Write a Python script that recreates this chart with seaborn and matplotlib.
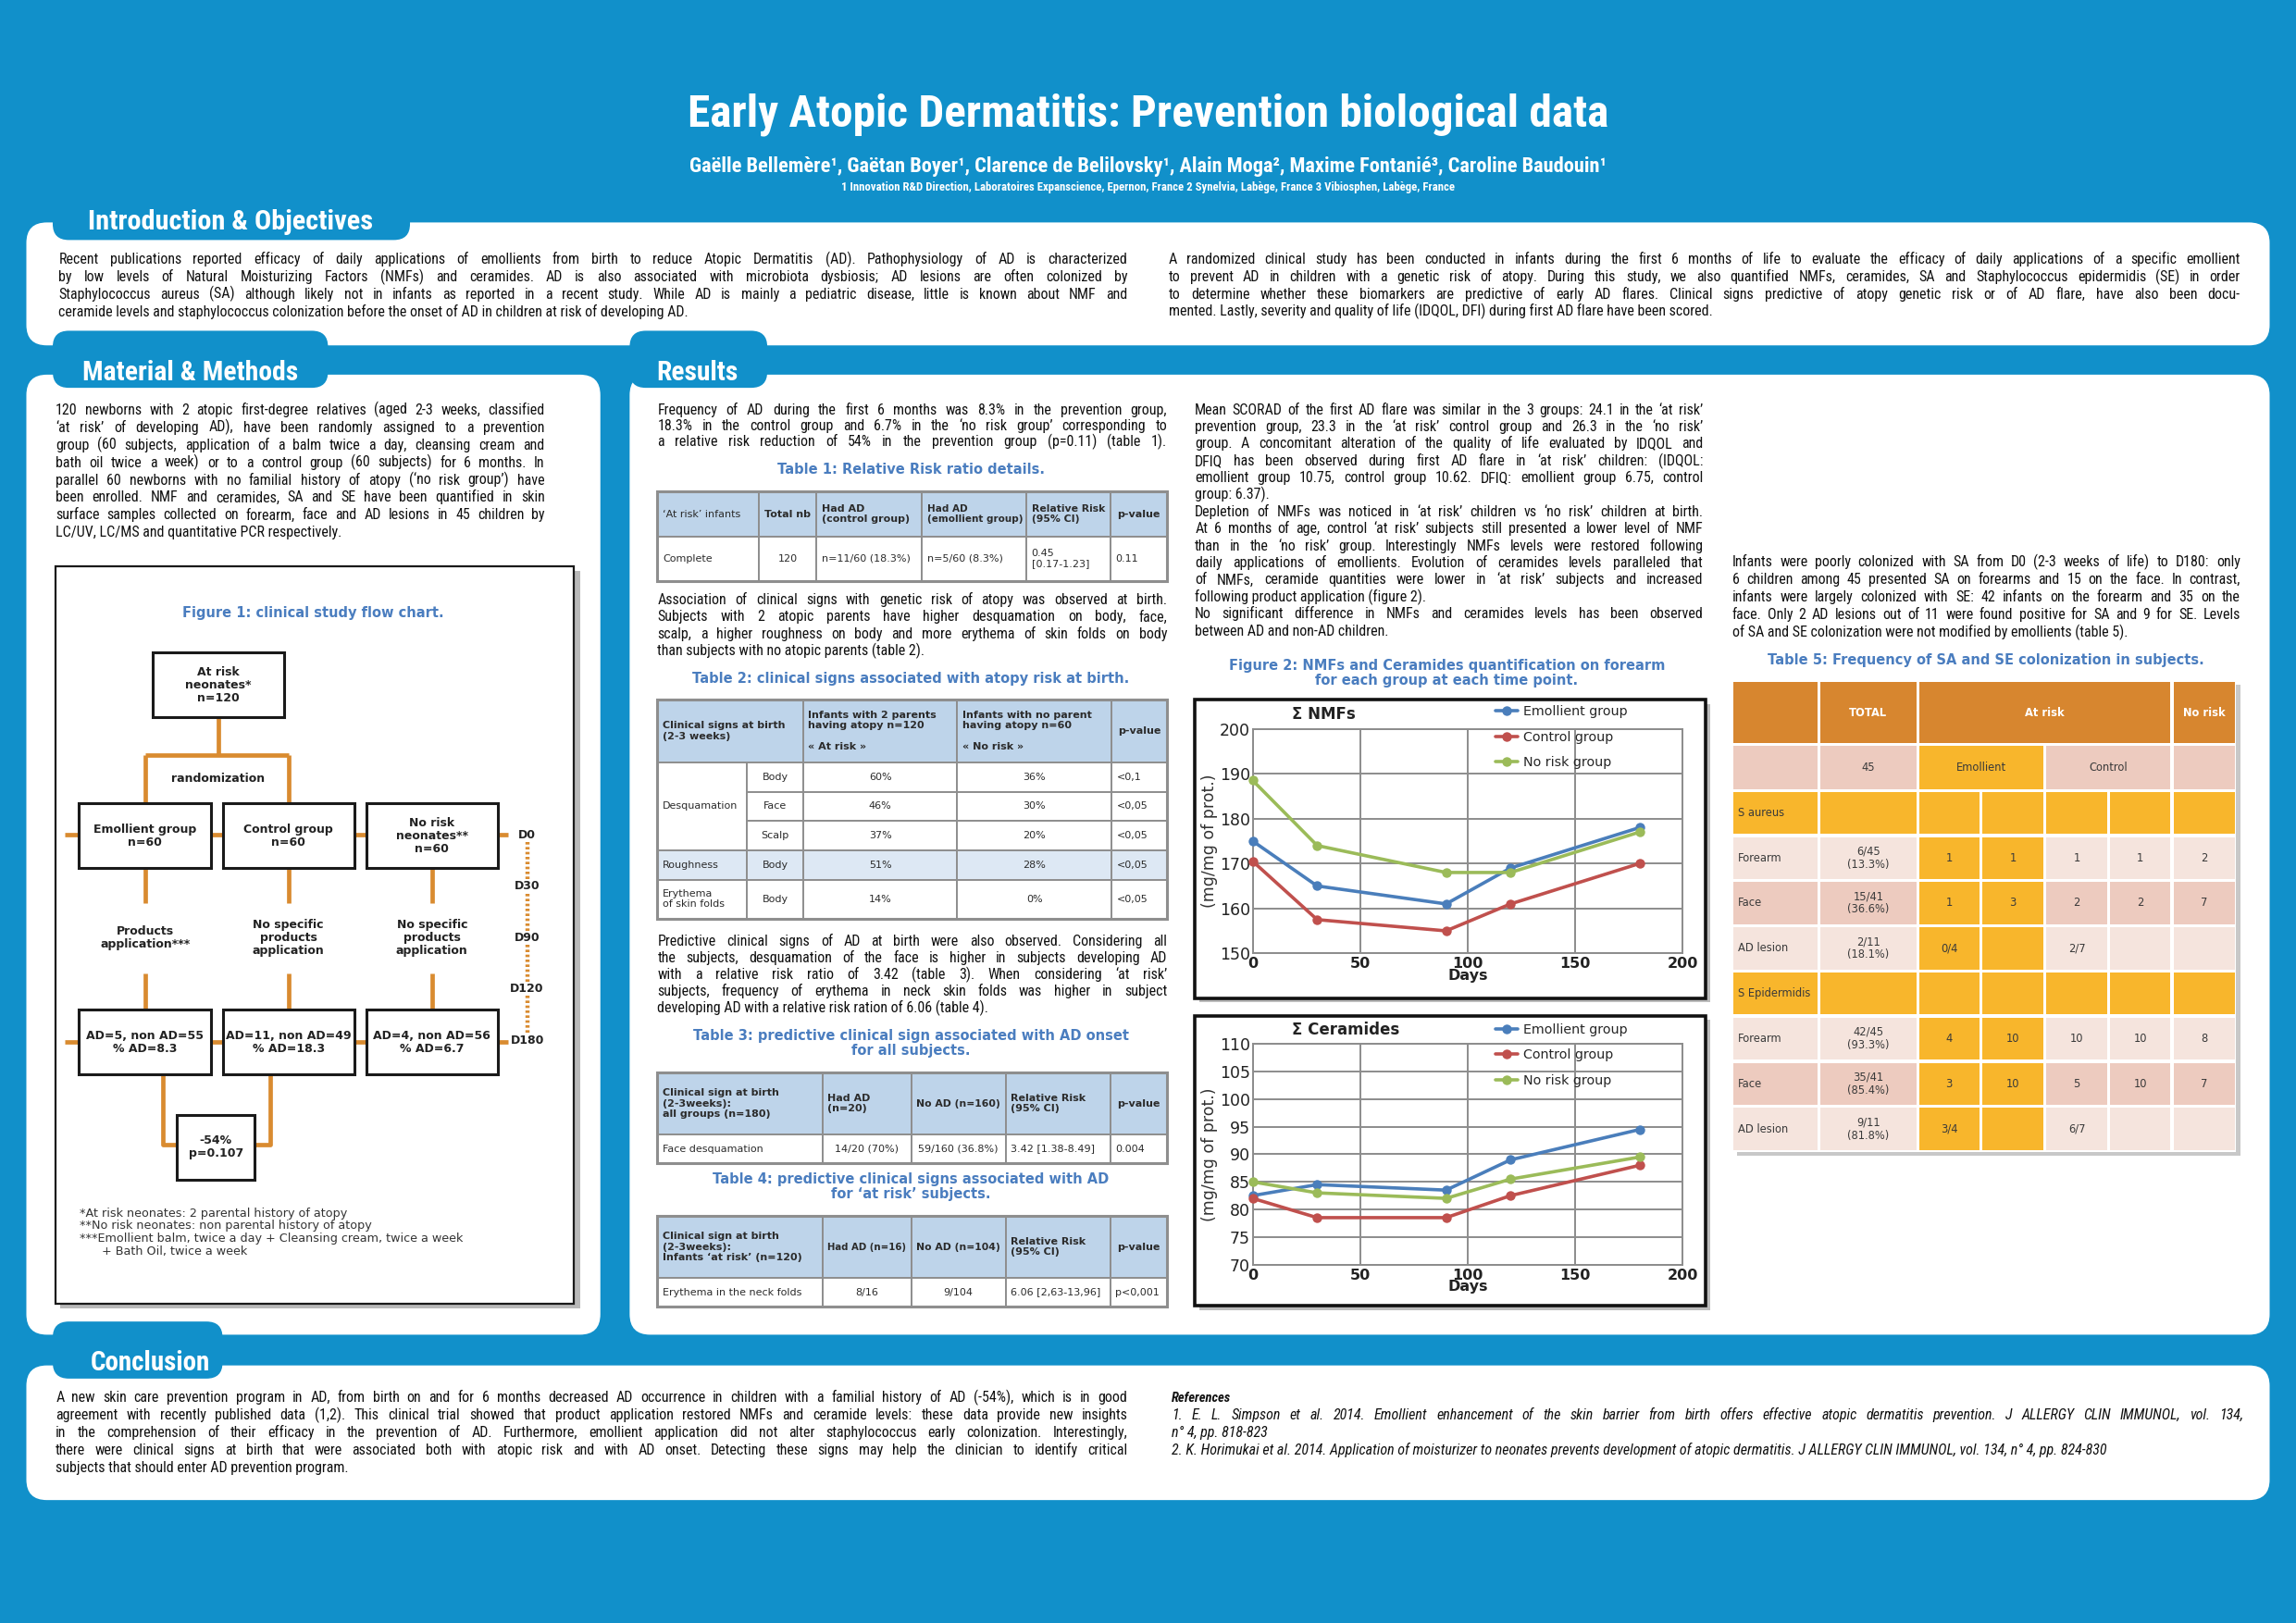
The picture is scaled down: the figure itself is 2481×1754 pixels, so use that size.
import matplotlib
matplotlib.use("Agg")
import matplotlib.pyplot as plt
from matplotlib.patches import FancyBboxPatch, Rectangle
from matplotlib.font_manager import FontProperties, fontManager
import numpy as np
import pandas as pd
import seaborn as sns

# ---------------- chart data ----------------
days = [0, 30, 90, 120, 180]
group_names = ["Emollient group", "Control group", "No risk group"]
nmf_emollient = [175.0, 165.0, 161.0, 169.0, 178.0]
nmf_control = [170.5, 157.5, 155.0, 161.0, 170.0]
nmf_norisk = [188.5, 174.0, 168.0, 168.0, 177.0]
cer_emollient = [82.5, 84.5, 83.5, 89.0, 94.5]
cer_control = [82.0, 78.5, 78.5, 82.5, 88.0]
cer_norisk = [85.0, 83.0, 82.0, 85.5, 89.5]
nmf_yticks = [150, 160, 170, 180, 190, 200]
cer_yticks = [70, 75, 80, 85, 90, 95, 100, 105, 110]
day_ticks = [0, 50, 100, 150, 200]

# ---------------- table data ----------------
t1_header = ["\u2018At risk\u2019 infants", "Total nb", "Had AD\n(control group)",
             "Had AD\n(emollient group)", "Relative Risk\n(95% CI)", "p-value"]
t1_row = ["Complete", "120", "n=11/60 (18.3%)", "n=5/60 (8.3%)", "0.45\n[0.17-1.23]", "0.11"]

t2_header = ["Clinical signs at birth\n(2-3 weeks)",
             "Infants with 2 parents\nhaving atopy n=120\n\n\u00ab At risk \u00bb",
             "Infants with no parent\nhaving atopy n=60\n\n\u00ab No risk \u00bb", "p-value"]
t2_signs = ["Desquamation", "Roughness", "Erythema\nof skin folds"]
t2_sites = ["Body", "Face", "Scalp", "Body", "Body"]
t2_atrisk = ["60%", "46%", "37%", "51%", "14%"]
t2_norisk = ["36%", "30%", "20%", "28%", "0%"]
t2_p = ["<0,1", "<0,05", "<0,05", "<0,05", "<0,05"]

t3_header = ["Clinical sign at birth\n(2-3weeks):\nall groups (n=180)", "Had AD\n(n=20)",
             "No AD (n=160)", "Relative Risk\n(95% CI)", "p-value"]
t3_row = ["Face desquamation", "14/20 (70%)", "59/160 (36.8%)", "3.42 [1.38-8.49]", "0.004"]
t4_header = ["Clinical sign at birth\n(2-3weeks):\nInfants \u2018at risk\u2019 (n=120)", "Had AD (n=16)",
             "No AD (n=104)", "Relative Risk\n(95% CI)", "p-value"]
t4_row = ["Erythema in the neck folds", "8/16", "9/104", "6.06 [2,63-13,96]", "p<0,001"]

t5_rowlabels = ["S aureus", "Forearm", "Face", "AD lesion", "S Epidermidis", "Forearm", "Face", "AD lesion"]
t5_total = ["", "6/45\n(13.3%)", "15/41\n(36.6%)", "2/11\n(18.1%)", "", "42/45\n(93.3%)", "35/41\n(85.4%)", "9/11\n(81.8%)"]
t5_values = [["", "", "", "", ""],
             ["1", "1", "1", "1", "2"],
             ["1", "3", "2", "2", "7"],
             ["0/4", "", "2/7", "", ""],
             ["", "", "", "", ""],
             ["4", "10", "10", "10", "8"],
             ["3", "10", "5", "10", "7"],
             ["3/4", "", "6/7", "", ""]]

flow_days = ["D0", "D30", "D90", "D120", "D180"]
flow_groups = ["Emollient group\nn=60", "Control group\nn=60", "No risk\nneonates**\nn=60"]
flow_treat = ["Products\napplication***", "No specific\nproducts\napplication", "No specific\nproducts\napplication"]
flow_results = ["AD=5, non AD=55\n% AD=8.3", "AD=11, non AD=49\n% AD=18.3", "AD=4, non AD=56\n% AD=6.7"]

# ---------------- text ----------------
title = "Early Atopic Dermatitis: Prevention biological data"
authors = ("Ga\u00eblle Bellem\u00e8re\u00b9, Ga\u00ebtan Boyer\u00b9, Clarence de Belilovsky\u00b9, "
           "Alain Moga\u00b2, Maxime Fontani\u00e9\u00b3, Caroline Baudouin\u00b9")
affil = ("1 Innovation R&D Direction, Laboratoires Expanscience, Epernon, France 2 Synelvia, "
         "Lab\u00e8ge, France 3 Vibiosphen, Lab\u00e8ge, France")
intro_left = [[
    "Recent publications reported efficacy of daily applications of emollients from birth to reduce Atopic Dermatitis (AD). Pathophysiology of AD is characterized",
    "by low levels of Natural Moisturizing Factors (NMFs) and ceramides. AD is also associated with microbiota dysbiosis; AD lesions are often colonized by",
    "Staphylococcus aureus (SA) although likely not in infants as reported in a recent study. While AD is mainly a pediatric disease, little is known about NMF and",
    "ceramide levels and staphylococcus colonization before the onset of AD in children at risk of developing AD."]]
intro_right = [[
    "A randomized clinical study has been conducted in infants during the first 6 months of life to evaluate the efficacy of daily applications of a specific emollient",
    "to prevent AD in children with a genetic risk of atopy. During this study, we also quantified NMFs, ceramides, SA and Staphylococcus epidermidis (SE) in order",
    "to determine whether these biomarkers are predictive of early AD flares. Clinical signs predictive of atopy genetic risk or of AD flare, have also been docu-",
    "mented. Lastly, severity and quality of life (IDQOL, DFI) during first AD flare have been scored."]]
methods = [[
    "120 newborns with 2 atopic first-degree relatives (aged 2-3 weeks, classified",
    "\u2018at risk\u2019 of developing AD), have been randomly assigned to a prevention",
    "group (60 subjects, application of a balm twice a day, cleansing cream and",
    "bath oil twice a week) or to a control group (60 subjects) for 6 months. In",
    "parallel 60 newborns with no familial history of atopy (\u2018no risk group\u2019) have",
    "been enrolled. NMF and ceramides, SA and SE have been quantified in skin",
    "surface samples collected on forearm, face and AD lesions in 45 children by",
    "LC/UV, LC/MS and quantitative PCR respectively."]]
res_p1 = [[
    "Frequency of AD during the first 6 months was 8.3% in the prevention group,",
    "18.3% in the control group and 6.7% in the \u2018no risk group\u2019 corresponding to",
    "a relative risk reduction of 54% in the prevention group (p=0.11) (table 1)."]]
res_p2 = [[
    "Association of clinical signs with genetic risk of atopy was observed at birth.",
    "Subjects with 2 atopic parents have higher desquamation on body, face,",
    "scalp, a higher roughness on body and more erythema of skin folds on body",
    "than subjects with no atopic parents (table 2)."]]
res_p3 = [[
    "Predictive clinical signs of AD at birth were also observed. Considering all",
    "the subjects, desquamation of the face is higher in subjects developing AD",
    "with a relative risk ratio of 3.42 (table 3). When considering \u2018at risk\u2019",
    "subjects, frequency of erythema in neck skin folds was higher in subject",
    "developing AD with a relative risk ration of 6.06 (table 4)."]]
res_col2 = [
    ["Mean SCORAD of the first AD flare was similar in the 3 groups: 24.1 in the \u2018at risk\u2019",
     "prevention group, 23.3 in the \u2018at risk\u2019 control group and 26.3 in the \u2018no risk\u2019",
     "group.  A concomitant alteration of the quality of life evaluated by IDQOL and",
     "DFIQ has been observed during first AD flare in \u2018at risk\u2019 children: (IDQOL:",
     "emollient group 10.75, control group 10.62. DFIQ: emollient group 6.75, control",
     "group: 6.37)."],
    ["Depletion of NMFs was noticed in \u2018at risk\u2019 children vs \u2018no risk\u2019 children at birth.",
     "At 6 months of age, control \u2018at risk\u2019 subjects still presented a lower level of NMF",
     "than in the \u2018no risk\u2019 group. Interestingly NMFs levels were restored following",
     "daily applications of emollients.  Evolution of ceramides levels paralleled that",
     "of NMFs, ceramide quantities were lower in \u2018at risk\u2019 subjects and increased",
     "following product application (figure 2)."],
    ["No significant difference in NMFs and ceramides levels has been observed",
     "between AD and non-AD children."]]
res_col3 = [[
    "Infants were poorly colonized with SA from D0 (2-3 weeks of life) to D180: only",
    "6 children among 45 presented SA on forearms and 15 on the face. In contrast,",
    "infants were largely colonized with SE: 42 infants on the forearm and 35 on the",
    "face. Only 2 AD lesions out of 11 were found positive for SA and 9 for SE. Levels",
    "of SA and SE colonization were not modified by emollients (table 5)."]]
conclusion = [[
    "A new  skin care prevention program in AD, from birth on and for 6 months decreased AD occurrence in children with a familial history of AD (-54%), which is in good",
    "agreement with recently published data (1,2). This clinical trial showed that product application restored NMFs and ceramide levels: these data provide new insights",
    "in the comprehension of their efficacy in the prevention of AD. Furthermore, emollient application did not alter staphylococcus early colonization. Interestingly,",
    "there were clinical signs at birth that were associated both with atopic risk and with AD onset. Detecting these signs may help the clinician to identify critical",
    "subjects that should enter AD prevention program."]]
references = [
    ["1. E. L. Simpson et al. 2014. Emollient enhancement of the skin barrier from birth offers effective atopic dermatitis prevention. J ALLERGY CLIN IMMUNOL, vol. 134,",
     "n\u00b0 4, pp. 818-823"],
    ["2. K. Horimukai et al. 2014. Application of moisturizer to neonates prevents development of atopic dermatitis. J ALLERGY CLIN IMMUNOL, vol. 134, n\u00b0 4, pp. 824-830"]]

# ---------------- setup ----------------
sns.set_theme(style="white")
ttf = fontManager.ttflist
names = {f.name for f in ttf}


def pick_body():
    for nm in ["Liberation Sans Narrow", "Roboto Condensed", "Open Sans Condensed", "Noto Sans Condensed"]:
        if nm in names:
            return nm, "normal"
    for nm in ["DejaVu Sans", "Noto Sans", "Roboto", "Open Sans"]:
        if any(f.name == nm and str(f.stretch) in ("condensed", "semi-condensed") for f in ttf):
            return nm, "condensed"
    return "DejaVu Sans", "normal"


BODY, BODY_STRETCH = pick_body()
plt.rcParams["font.family"] = ["DejaVu Sans"]

BLUE = "#1190ca"
CAP = "#4a7dbf"
ORANGE = "#d98b30"
W_FULL, H_FULL = 2481, 1754
UW, UH = 1568.0, 1109.0
S = W_FULL / UW

fig = plt.figure(figsize=(W_FULL / 100, H_FULL / 100), dpi=100)
fig.patch.set_facecolor(BLUE)
bg = fig.add_axes([0, 0, 1, 1])
bg.set_xlim(0, UW)
bg.set_ylim(UH, 0)
bg.axis("off")
R = fig.canvas.get_renderer()


def twidth(s, fp):
    return R.get_text_width_height_descent(s, fp, ismath=False)[0] / S


def txt(x, y, s, size, weight="normal", color="#222222", ha="center", va="center",
        family=None, stretch="normal", style="normal", maxw=None, exactw=None, ls=1.15, z=6):
    fam = [family or "DejaVu Sans", "DejaVu Sans"]
    fp = FontProperties(family=fam, size=size, weight=weight, style=style, stretch=stretch)
    lines = s.split("\n")
    wmax = max(twidth(l, fp) for l in lines if l) if any(lines) else 1
    if exactw is not None:
        fp.set_size(size * exactw / wmax)
    elif maxw is not None and wmax > maxw:
        fp.set_size(size * maxw / wmax)
    bg.text(x, y, s, fontproperties=fp, color=color, ha=ha, va=va,
            multialignment=ha if ha in ("left", "right") else "center", linespacing=ls, zorder=z)
    return fp.get_size()


def paragraph(blocks, x0, x1, y0, dy, size, weight="normal", style="normal",
              justify=True, justify_last=False, color="#111111"):
    fp = FontProperties(family=[BODY, "DejaVu Sans"], stretch=BODY_STRETCH, size=size,
                        weight=weight, style=style)
    lines = [l for b in blocks for l in b]
    wmax = max(twidth(l, fp) for l in lines)
    fp.set_size(size * min(1.0, (x1 - x0) / wmax))
    y = y0
    for b in blocks:
        for i, line in enumerate(b):
            last = i == len(b) - 1
            words = line.split()
            if justify and (not last or justify_last) and len(words) > 1:
                ws = [twidth(w, fp) for w in words]
                gap = ((x1 - x0) - sum(ws)) / (len(words) - 1)
                x = x0
                for w, wd in zip(words, ws):
                    bg.text(x, y, w, fontproperties=fp, ha="left", va="baseline", color=color, zorder=6)
                    x += wd + gap
            else:
                bg.text(x0, y, line, fontproperties=fp, ha="left", va="baseline", color=color, zorder=6)
            y += dy
    return fp.get_size()


def rpanel(x0, y0, x1, y1, r, fc, z=1):
    bg.add_patch(FancyBboxPatch((x0 + r, y0 + r), (x1 - x0) - 2 * r, (y1 - y0) - 2 * r,
                                boxstyle=f"round,pad={r},rounding_size={r}", fc=fc, ec="none", zorder=z))


def section(px0, py0, px1, py1, tx0, tx1, tbot, label, lx, lw_):
    rpanel(px0, py0, px1, py1, 14, "white", z=1)
    rpanel(tx0, py0 - 30, tx1, tbot, 11, BLUE, z=2)
    txt(lx, (py0 - 2 + tbot) / 2 - 5, label, 14, weight="bold", color="white", ha="left",
        family=BODY, exactw=lw_, z=3)


# ---------------- header ----------------
txt(784, 78, title, 40, weight="bold", color="white", family=BODY, exactw=628)
txt(784, 114, authors, 14, weight="bold", color="white", family=BODY, exactw=632)
txt(784, 128, affil, 10, weight="bold", color="white", family=BODY, exactw=416)

# ---------------- sections ----------------
section(18, 152, 1550, 236, 36, 280, 164, "Introduction & Objectives", 60, 196)
section(18, 256, 410, 912, 36, 224, 265, "Material & Methods", 56, 148)
section(430, 256, 1550, 912, 430, 524, 265, "Results", 448, 56)
section(18, 933, 1550, 1025, 36, 152, 942, "Conclusion", 62, 82)

paragraph(intro_left, 40, 770, 180, 12, 11.5)
paragraph(intro_right, 798, 1530, 180, 12, 11.5)
paragraph(methods, 38, 372, 283, 12, 11.5)
paragraph(res_p1, 449, 797, 283, 11, 11.5, justify_last=True)
paragraph(res_p2, 449, 797, 413, 11.5, 11.5)
paragraph(res_p3, 449, 797, 646, 11.5, 11.5)
paragraph(res_col2, 816, 1163, 283, 11.62, 11.5)
paragraph(res_col3, 1183, 1530, 387, 12, 11.5)
paragraph(conclusion, 38, 770, 958, 12, 11.5)
bg.text(800, 958, "References", fontproperties=FontProperties(family=[BODY, "DejaVu Sans"], stretch=BODY_STRETCH,
        size=10.5, weight="bold", style="italic"), ha="left", va="baseline", color="#111111", zorder=6)
paragraph(references, 800, 1532, 970, 12, 11.5, style="italic")

# ---------------- captions ----------------
cap_fs = txt(622, 464, "Table 2: clinical signs associated with atopy risk at birth.", 11,
             weight="bold", color=CAP, exactw=295)
txt(214, 419, "Figure 1: clinical study flow chart.", cap_fs, weight="bold", color=CAP)
txt(622, 321, "Table 1: Relative Risk ratio details.", cap_fs, weight="bold", color=CAP)
txt(622, 713, "Table 3: predictive clinical sign associated with AD onset\nfor all subjects.", cap_fs,
    weight="bold", color=CAP, ls=1.05)
txt(622, 811, "Table 4: predictive clinical signs associated with AD\nfor \u2018at risk\u2019 subjects.", cap_fs,
    weight="bold", color=CAP, ls=1.05)
txt(988, 460, "Figure 2: NMFs and Ceramides quantification on forearm\nfor each group at each time point.",
    cap_fs, weight="bold", color=CAP, ls=1.05)
txt(1356, 451, "Table 5: Frequency of SA and SE colonization in subjects.", cap_fs, weight="bold", color=CAP)

# ---------------- flow chart ----------------
bg.add_patch(Rectangle((41, 390), 355, 504, fc="#b9b9b9", ec="none", zorder=2))
bg.add_patch(Rectangle((38, 387), 354, 504, fc="white", ec="#1a1a1a", lw=1.6, zorder=3))

box_fs = txt(-500, -500, "AD=11, non AD=49", 10, weight="bold", exactw=86)


def fbox(x0, y0, x1, y1, s):
    bg.add_patch(Rectangle((x0, y0), x1 - x0, y1 - y0, fc="white", ec="#1a1a1a", lw=2.2, zorder=5))
    txt((x0 + x1) / 2, (y0 + y1) / 2, s, box_fs, weight="bold", color="#222222", ls=1.1, z=6)


def oline(xs, ys, z=4, **kw):
    bg.plot(xs, ys, color=ORANGE, lw=kw.pop("lw", 3.4), solid_capstyle="butt", zorder=z, **kw)


centers = [99, 197, 295]
gx0 = [54, 152, 250]
oline([149, 149], [490, 516])
oline([99, 197], [516, 516])
oline([99, 99], [516, 549])
oline([197, 197], [516, 549])
oline([44, 347], [570, 570])
oline([44, 347], [712, 712])
for cx in centers:
    oline([cx, cx], [593, 617])
    oline([cx, cx], [665, 690])
oline([111.5, 111.5, 121], [734, 782, 782])
oline([184.5, 184.5, 174], [734, 782, 782])

fbox(104, 446, 194, 490, "At risk\nneonates*\nn=120")
txt(149, 532, "randomization", box_fs, weight="bold")
for x0, s in zip(gx0, flow_groups):
    fbox(x0, 549, x0 + 90, 593, s)
for x0, s in zip(gx0, flow_results):
    fbox(x0, 690, x0 + 90, 734, s)
for cx, s in zip(centers, flow_treat):
    txt(cx, 641, s, box_fs, weight="bold", ls=1.1)
fbox(121, 762, 174, 806, "-54%\np=0.107")

d_ys = [570.5, 605.6, 640.8, 675.6, 711.2]
for lab, yy in zip(flow_days, d_ys):
    txt(360, yy, lab, box_fs, weight="bold")
for ya, yb in zip(d_ys[:-1], d_ys[1:]):
    oline([360, 360], [ya + 5, yb - 5], lw=3.2, linestyle=(0, (0.6, 0.6)))

foot_fs = txt(-500, -500, "***Emollient balm, twice a day + Cleansing cream, twice a week", 9, exactw=262)
txt(54.5, 842, "*At risk neonates: 2 parental history of atopy\n**No risk neonates: non parental history of atopy\n"
    "***Emollient balm, twice a day + Cleansing cream, twice a week\n      + Bath Oil, twice a week",
    foot_fs, ha="left", ls=1.08, color="#333333")

# ---------------- tables 1-4 ----------------
HB = "#bed4ea"
HL = "#dde8f4"
GRID = "#8e8e8e"
TFS = 8.0


def draw_table(x0, x1, y0, y1, cfr, rfr, cells, fs=TFS):
    xs = [x0 + f * (x1 - x0) for f in cfr]
    ys = [y0 + f * (y1 - y0) for f in rfr]
    for (r0, r1, c0, c1, s, fc, wt, ha) in cells:
        X0, X1, Y0, Y1 = xs[c0], xs[c1], ys[r0], ys[r1]
        bg.add_patch(Rectangle((X0, Y0), X1 - X0, Y1 - Y0, fc=fc, ec=GRID, lw=1.4, zorder=3))
        if s:
            pad = 3.5
            x = X0 + pad if ha == "left" else (X0 + X1) / 2
            txt(x, (Y0 + Y1) / 2, s, fs, weight=wt, color="#2b2b2b", ha=ha, maxw=(X1 - X0) - 2 * pad,
                ls=1.15, z=5)
    bg.add_patch(Rectangle((x0, y0), x1 - x0, y1 - y0, fc="none", ec=GRID, lw=2.2, zorder=4))


t1_cells = []
for c, s in enumerate(t1_header):
    t1_cells.append((0, 1, c, c + 1, s, HB, "normal" if c == 0 else "bold",
                     "center" if c in (1, 5) else "left"))
for c, s in enumerate(t1_row):
    t1_cells.append((1, 2, c, c + 1, s, "white", "normal", "center" if c == 1 else "left"))
draw_table(449, 797, 336, 397, [0, .199, .312, .519, .724, .889, 1], [0, .5, 1], t1_cells)

t2_cells = [(0, 1, 0, 2, t2_header[0], HB, "bold", "left"),
            (0, 1, 2, 3, t2_header[1], HB, "bold", "left"),
            (0, 1, 3, 4, t2_header[2], HB, "bold", "left"),
            (0, 1, 4, 5, t2_header[3], HB, "bold", "center"),
            (1, 4, 0, 1, t2_signs[0], "white", "normal", "left"),
            (4, 5, 0, 1, t2_signs[1], HL, "normal", "left"),
            (5, 6, 0, 1, t2_signs[2], "white", "normal", "left")]
for i in range(5):
    fc = HL if i == 3 else "white"
    t2_cells += [(i + 1, i + 2, 1, 2, t2_sites[i], fc, "normal", "center"),
                 (i + 1, i + 2, 2, 3, t2_atrisk[i], fc, "normal", "center"),
                 (i + 1, i + 2, 3, 4, t2_norisk[i], fc, "normal", "center"),
                 (i + 1, i + 2, 4, 5, t2_p[i], fc, "normal", "left")]
draw_table(449, 797, 478, 628, [0, .176, .286, .588, .891, 1],
           [0, .2867, .42, .5533, .6867, .82, 1.0], t2_cells)


def small_table(y0, y1, header, row):
    cells = []
    for c, s in enumerate(header):
        cells.append((0, 1, c, c + 1, s, HB, "bold", "center" if c == 4 else "left"))
    for c, s in enumerate(row):
        cells.append((1, 2, c, c + 1, s, "white", "normal", "left" if c in (0, 3, 4) else "center"))
    draw_table(449, 797, y0, y1, [0, .324, .498, .683, .889, 1], [0, .677, 1], cells)


small_table(733, 795, t3_header, t3_row)
small_table(831, 893, t4_header, t4_row)

# ---------------- table 5 ----------------
T5_OR = "#d7862f"
T5_Y = "#f8b62c"
T5_PD = "#edcbbf"
T5_PL = "#f5e4dd"
T5FS = 8.3
tx0, tx1, ty0, ty1 = 1183, 1527, 465, 787
bg.add_patch(Rectangle((tx0 + 3, ty0 + 3), tx1 - tx0, ty1 - ty0, fc="#c8c8c8", ec="none", zorder=2))
bg.add_patch(Rectangle((tx0, ty0), tx1 - tx0, ty1 - ty0, fc="white", ec="none", zorder=2))
cx5 = [tx0 + f * (tx1 - tx0) for f in [0, .172, .368, .493, .621, .747, .873, 1]]
ry5 = [ty0 + f * (ty1 - ty0) for f in [0, .1364, .2336, .3291, .4246, .52, .6164, .7118, .8082, .9037, 1.0]]


def c5(r0, r1, c0, c1, s, fc, wt="normal", col="#3a3a3a"):
    g = 1.0
    X0, X1, Y0, Y1 = cx5[c0], cx5[c1], ry5[r0], ry5[r1]
    bg.add_patch(Rectangle((X0 + g, Y0 + g), X1 - X0 - 2 * g, Y1 - Y0 - 2 * g, fc=fc, ec="none", zorder=3))
    if s:
        if c0 == 0 and r0 > 0:
            txt(X0 + 4, (Y0 + Y1) / 2, s, T5FS, weight=wt, color=col, ha="left", z=5,
                maxw=X1 - X0 - 6)
        else:
            txt((X0 + X1) / 2, (Y0 + Y1) / 2, s, T5FS, weight=wt, color=col, z=5, ls=1.1,
                maxw=X1 - X0 - 6)


c5(0, 1, 0, 1, "", T5_OR)
c5(0, 1, 1, 2, "TOTAL", T5_OR, "bold", "white")
c5(0, 1, 2, 6, "At risk", T5_OR, "bold", "white")
c5(0, 1, 6, 7, "No risk", T5_OR, "bold", "white")
c5(1, 2, 0, 1, "", T5_PD)
c5(1, 2, 1, 2, "45", T5_PD)
c5(1, 2, 2, 4, "Emollient", T5_Y)
c5(1, 2, 4, 6, "Control", T5_PD)
c5(1, 2, 6, 7, "", T5_PD)
for i, lab in enumerate(t5_rowlabels):
    r = i + 2
    sec = lab.startswith("S ")
    pink = T5_PD if lab == "Face" else T5_PL
    base = T5_Y if sec else pink
    c5(r, r + 1, 0, 1, lab, base)
    c5(r, r + 1, 1, 2, t5_total[i], base)
    for j, v in enumerate(t5_values[i]):
        fc = T5_Y if (sec or j < 2) else pink
        c5(r, r + 1, j + 2, j + 3, v, fc)

# ---------------- charts ----------------
palette = dict(zip(group_names, ["#4a7ebb", "#c0504d", "#9bbb59"]))


def long_df(series):
    return pd.DataFrame({"Days": days * len(series),
                         "value": [v for s in series for v in s],
                         "group": [g for g in group_names for _ in days]})


def chart(box, plot, series, yticks, label, title_y, leg_y):
    bx0, by0, bx1, by1 = box
    bg.add_patch(Rectangle((bx0 + 3, by0 + 3), bx1 - bx0, by1 - by0, fc="#bcbcbc", ec="none", zorder=2))
    bg.add_patch(Rectangle((bx0, by0), bx1 - bx0, by1 - by0, fc="white", ec="#111111", lw=2.6, zorder=3))
    px0, py0, px1, py1 = plot
    ax = fig.add_axes([px0 / UW, 1 - py1 / UH, (px1 - px0) / UW, (py1 - py0) / UH])
    ax.set_zorder(5)
    sns.lineplot(data=long_df(series), x="Days", y="value", hue="group", hue_order=group_names,
                 palette=palette, marker="o", markersize=7.5, linewidth=2.6, markeredgewidth=0,
                 clip_on=False, ax=ax, zorder=3)
    ax.set_xlim(0, 200)
    ax.set_ylim(yticks[0], yticks[-1])
    ax.set_xticks(day_ticks)
    ax.set_yticks(yticks)
    ax.set_axisbelow(True)
    ax.grid(True, color="#8c8c8c", lw=1.4)
    for sp in ax.spines.values():
        sp.set_color("#8c8c8c")
        sp.set_linewidth(1.4)
    ax.tick_params(axis="both", length=0, colors="#222222")
    ax.tick_params(axis="y", labelsize=12.5, pad=2)
    ax.tick_params(axis="x", labelsize=11.5, pad=3)
    for t in ax.get_xticklabels():
        t.set_fontweight("bold")
    ax.set_xlabel("Days", fontsize=11.5, fontweight="bold", labelpad=-2, color="#222222")
    ax.set_ylabel("(mg/mg of prot.)", fontsize=12.5, labelpad=1, color="#333333")
    ax.text(0.092, title_y, label, transform=ax.transAxes, fontsize=12, fontweight="bold",
            ha="left", va="center", color="#222222")
    sns.move_legend(ax, "upper left", bbox_to_anchor=(0.565, leg_y), frameon=False, title=None,
                    fontsize=10.3, handlelength=1.7, handletextpad=0.4, labelspacing=0.95,
                    borderpad=0, borderaxespad=0)
    return ax


chart((816, 478, 1165, 682), (855.5, 498, 1149, 651.4),
      [nmf_emollient, nmf_control, nmf_norisk], nmf_yticks, "\u03a3 NMFs", 1.063, 1.105)
chart((816, 694, 1165, 892), (855.5, 713.5, 1149, 864),
      [cer_emollient, cer_control, cer_norisk], cer_yticks, "\u03a3 Ceramides", 1.067, 1.095)

fig.savefig("out.png", dpi=100, facecolor=fig.get_facecolor())
